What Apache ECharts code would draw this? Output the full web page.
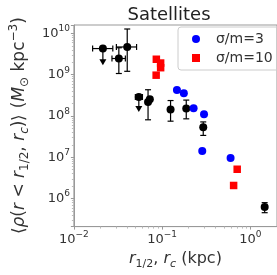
<!DOCTYPE html>
<html>
<head>
<meta charset="utf-8">
<script src="https://cdn.jsdelivr.net/npm/echarts@6/dist/echarts.min.js"></script>
<style>
  html, body { margin: 0; padding: 0; background: #fff; }
  #chart { width: 277px; height: 275px; }
</style>
</head>
<body>
<div id="chart"></div>
<script>
  // observed satellites (black, with error bars)
  const obsX = [0.0213, 0.0323, 0.0402, 0.0544, 0.0692, 0.0725, 0.1245, 0.1875, 0.292, 1.45];
  const obsY = [4.3e9, 2.47e9, 4.7e9, 2.89e8, 2.19e8, 2.56e8, 1.44e8, 1.52e8, 5.34e7, 6.24e5];
  const obsXLo = [0.0163, 0.027, 0.0303, 0.0497, null, null, null, null, null, null];
  const obsXHi = [0.0276, 0.0383, 0.0513, 0.0598, null, null, null, null, null, null];
  const obsYLo = [null, 1.07e9, 1.21e9, null, 8.1e7, null, 7.5e7, 8.55e7, 3.39e7, 4.56e5];
  const obsYHi = [null, 4.5e9, 1.28e10, null, 4.33e8, null, 2.37e8, 2.43e8, 7.2e7, 7.98e5];
  // upper limits: arrow goes down to this value
  const obsLimit = [1.8e9, null, null, 1.32e8, null, null, null, null, null, null];

  // simulations
  const sigma3X = [0.147, 0.176, 0.227, 0.298, 0.2845, 0.596];
  const sigma3Y = [4.27e8, 3.57e8, 1.55e8, 1.10e8, 1.42e7, 9.6e6];
  const sigma10X = [0.0859, 0.0961, 0.0961, 0.0855, 0.708, 0.645];
  const sigma10Y = [2.37e9, 1.92e9, 1.48e9, 9.75e8, 5.14e6, 2.08e6];

  const xRange = [0.01, 2];
  const yRange = [2.1e5, 1.6e10];

  const chart = echarts.init(document.getElementById('chart'));

  function powLabel(v) {
    const e = Math.log10(v);
    const r = Math.round(e);
    if (Math.abs(e - r) > 1e-6) return '';
    return '{b|10}{s|' + (r < 0 ? '\u2212' + (-r) : r) + '}';
  }

  const labelRich = {
    b: { fontSize: 13, color: '#333', lineHeight: 18, fontFamily: 'DejaVu Sans' },
    s: { fontSize: 9, color: '#333', verticalAlign: 'top', fontFamily: 'DejaVu Sans' }
  };

  function nameRich(fs) {
    const sm = Math.round(fs * 0.68);
    return {
      n: { fontSize: fs, color: '#333', lineHeight: fs + 6, fontFamily: 'DejaVu Sans' },
      i: { fontSize: fs, color: '#333', fontStyle: 'italic', fontFamily: 'DejaVu Sans' },
      sub: { fontSize: sm, color: '#333', verticalAlign: 'bottom', fontFamily: 'DejaVu Sans' },
      isub: { fontSize: sm, color: '#333', fontStyle: 'italic', verticalAlign: 'bottom', fontFamily: 'DejaVu Sans' },
      sup: { fontSize: sm, color: '#333', verticalAlign: 'top', fontFamily: 'DejaVu Sans' }
    };
  }

  function renderErr(params, api) {
    const i = params.dataIndex;
    const c = api.coord([obsX[i], obsY[i]]);
    const st = { stroke: '#000', lineWidth: 1.2 };
    const kids = [];
    const cap = 3;
    if (obsXLo[i] != null) {
      const a = api.coord([obsXLo[i], obsY[i]]);
      const b = api.coord([obsXHi[i], obsY[i]]);
      kids.push({ type: 'line', shape: { x1: a[0], y1: c[1], x2: b[0], y2: c[1] }, style: st });
      kids.push({ type: 'line', shape: { x1: a[0], y1: c[1] - cap, x2: a[0], y2: c[1] + cap }, style: st });
      kids.push({ type: 'line', shape: { x1: b[0], y1: c[1] - cap, x2: b[0], y2: c[1] + cap }, style: st });
    }
    if (obsYLo[i] != null) {
      const a = api.coord([obsX[i], obsYLo[i]]);
      const b = api.coord([obsX[i], obsYHi[i]]);
      kids.push({ type: 'line', shape: { x1: c[0], y1: a[1], x2: c[0], y2: b[1] }, style: st });
      kids.push({ type: 'line', shape: { x1: c[0] - cap, y1: a[1], x2: c[0] + cap, y2: a[1] }, style: st });
      kids.push({ type: 'line', shape: { x1: c[0] - cap, y1: b[1], x2: c[0] + cap, y2: b[1] }, style: st });
    }
    if (obsLimit[i] != null) {
      const e = api.coord([obsX[i], obsLimit[i]]);
      kids.push({ type: 'line', shape: { x1: c[0], y1: c[1], x2: c[0], y2: e[1] - 4 }, style: st });
      kids.push({
        type: 'polygon',
        shape: { points: [[c[0] - 3.5, e[1] - 5], [c[0] + 3.5, e[1] - 5], [c[0], e[1] + 1]] },
        style: { fill: '#000' }
      });
    }
    return { type: 'group', children: kids };
  }

  chart.setOption({
    animation: false,
    title: {
      text: 'Satellites',
      left: 164,
      textAlign: 'center',
      top: 1,
      textStyle: { fontSize: 18, fontWeight: 'normal', color: '#222', fontFamily: 'DejaVu Sans' }
    },
    legend: {
      orient: 'vertical',
      left: 178,
      top: 27,
      itemWidth: 8,
      itemHeight: 8,
      itemGap: 5,
      padding: [5, 20, 5, 14],
      borderColor: '#ccc',
      borderWidth: 1,
      borderRadius: 3,
      textStyle: { fontSize: 14, color: '#333', fontFamily: 'DejaVu Sans', padding: [0, 0, 0, 11] },
      data: [
        { name: '\u03c3/m=3', icon: 'circle' },
        { name: '\u03c3/m=10', icon: 'rect' }
      ]
    },
    grid: { left: 51, top: 25, right: -1, bottom: 35, show: true, borderColor: '#999', borderWidth: 1 },
    xAxis: {
      type: 'log',
      logBase: 10,
      min: xRange[0],
      max: xRange[1],
      name: '{i|r}{sub|1/2}{n|, }{i|r}{isub|c}{n| (kpc)}',
      nameLocation: 'middle',
      nameGap: 17,
      nameTextStyle: { rich: nameRich(16) },
      axisLine: { lineStyle: { color: '#999' } },
      axisTick: { length: 3, lineStyle: { color: '#999' } },
      minorTick: { show: true, splitNumber: 9, length: 2, lineStyle: { color: '#bbb' } },
      axisLabel: { formatter: powLabel, rich: labelRich, margin: 4, showMinLabel: true, showMaxLabel: false },
      splitLine: { show: false }
    },
    yAxis: {
      type: 'log',
      logBase: 10,
      min: yRange[0],
      max: yRange[1],
      name: '\u27e8{i|\u03c1}{n|(}{i|r}{n| < }{i|r}{sub|1/2}{n|, }{i|r}{isub|c}{n|)}\u27e9{n| (}{i|M}{sub|\u2299}{n| kpc}{sup|\u22123}{n|)}',
      nameLocation: 'middle',
      nameGap: 33,
      nameRotate: 90,
      nameTextStyle: { fontSize: 17, color: '#333', rich: nameRich(17) },
      axisLine: { lineStyle: { color: '#999' } },
      axisTick: { length: 3, lineStyle: { color: '#999' } },
      minorTick: { show: true, splitNumber: 9, length: 2, lineStyle: { color: '#bbb' } },
      axisLabel: { formatter: powLabel, rich: labelRich, margin: 4, showMinLabel: false, showMaxLabel: false },
      splitLine: { show: false }
    },
    series: [
      {
        type: 'custom',
        renderItem: renderErr,
        data: obsX.map((x, i) => [x, obsY[i]]),
        z: 2
      },
      {
        type: 'scatter',
        data: obsX.map((x, i) => [x, obsY[i]]),
        symbol: 'circle',
        symbolSize: 8,
        itemStyle: { color: '#000', opacity: 1 },
        z: 3
      },
      {
        name: '\u03c3/m=3',
        type: 'scatter',
        data: sigma3X.map((x, i) => [x, sigma3Y[i]]),
        symbol: 'circle',
        symbolSize: 8,
        itemStyle: { color: '#0000ff', opacity: 1 },
        z: 4
      },
      {
        name: '\u03c3/m=10',
        type: 'scatter',
        data: sigma10X.map((x, i) => [x, sigma10Y[i]]),
        symbol: 'rect',
        symbolSize: 7.5,
        itemStyle: { color: '#ff0000', opacity: 1 },
        z: 4
      }
    ]
  });
</script>
</body>
</html>
